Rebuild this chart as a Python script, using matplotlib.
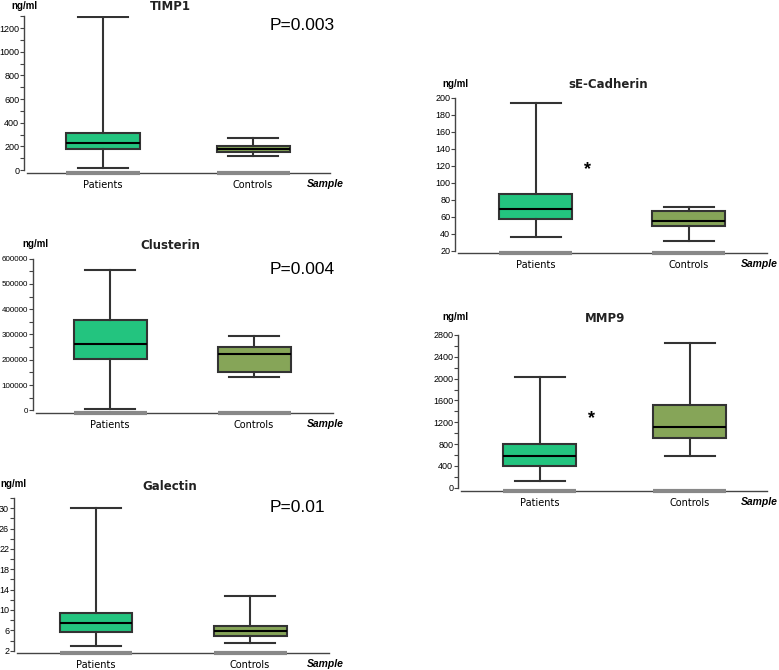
import matplotlib

matplotlib.use("Agg")
import matplotlib.pyplot as plt

# ---- data ----
groups = ["Patients", "Controls"]

timp1_whislo = [15, 115]
timp1_q1 = [177, 155]
timp1_med = [225, 177]
timp1_q3 = [315, 203]
timp1_whishi = [1290, 270]

clus_whislo = [4000, 133000]
clus_q1 = [202000, 153000]
clus_med = [263000, 223000]
clus_q3 = [356000, 249000]
clus_whishi = [557000, 294000]

gal_whislo = [2.9, 3.5]
gal_q1 = [5.7, 4.95]
gal_med = [7.4, 5.9]
gal_q3 = [9.5, 6.9]
gal_whishi = [30.1, 12.8]

cad_whislo = [36, 31.5]
cad_q1 = [57.5, 49]
cad_med = [69.5, 55.5]
cad_q3 = [87.5, 67]
cad_whishi = [194, 72]

mmp_whislo = [130, 580]
mmp_q1 = [390, 915]
mmp_med = [575, 1110]
mmp_q3 = [810, 1510]
mmp_whishi = [2030, 2645]

W, H = 779, 670
GREEN = "#23c47f"
OLIVE = "#86a558"
EDGE = "#333333"
SANS = ["Liberation Sans", "DejaVu Sans"]

fig = plt.figure(figsize=(W / 100, H / 100), dpi=100)


def fx(px):
    return px / W


def fy(py):
    return 1 - py / H


def panel(box, ylim, yticks, yminor, stats, title, title_xy, unit_xy, sample_x,
          ysize=6.5):
    lx, rx, ty, by, c1, c2 = box
    ax = fig.add_axes([fx(lx), fy(by), fx(rx - lx), (by - ty) / H])
    s = c2 - c1
    ax.set_xlim(1 - (c1 - lx) / s, 2 + (rx - c2) / s)
    ax.set_ylim(*ylim)
    lo, q1, med, q3, hi = stats
    bstats = []
    for i, g in enumerate(groups):
        bstats.append(dict(label=g, whislo=lo[i], q1=q1[i], med=med[i],
                           q3=q3[i], whishi=hi[i], fliers=[]))
    bw = 73 / s
    bp = ax.bxp(bstats, positions=[1, 2], widths=bw, patch_artist=True,
                showfliers=False, manage_ticks=False,
                boxprops=dict(edgecolor=EDGE, linewidth=1.5),
                medianprops=dict(color="black", linewidth=1.5),
                whiskerprops=dict(color=EDGE, linewidth=1.5),
                capprops=dict(color=EDGE, linewidth=1.5),
                capwidths=50 / s)
    for patch, c in zip(bp["boxes"], [GREEN, OLIVE]):
        patch.set_facecolor(c)
    # grey base under each box on the x axis
    for p in [1, 2]:
        ax.hlines(ylim[0], p - bw / 2, p + bw / 2, color="#888888", lw=3,
                  clip_on=False, zorder=5)
    for sp in ["top", "right"]:
        ax.spines[sp].set_visible(False)
    ax.spines["left"].set_bounds(yticks[0], ylim[1])
    ax.spines["bottom"].set_bounds(ax.get_xlim()[0] + 3 / s, ax.get_xlim()[1])
    for sp in ["left", "bottom"]:
        ax.spines[sp].set_color("#444444")
        ax.spines[sp].set_linewidth(1)
    ax.set_yticks(yticks)
    if yminor:
        ax.set_yticks(yminor, minor=True)
    ax.tick_params(axis="y", which="both", length=3, width=0.8,
                   color="#444444", labelsize=ysize, pad=0.5)
    for lab in ax.get_yticklabels():
        lab.set_family(SANS)
    ax.set_xticks([1, 2])
    ax.set_xticklabels(groups, fontsize=7, family="DejaVu Sans")
    ax.tick_params(axis="x", length=0, pad=5)
    ax.patch.set_visible(False)

    fig.text(fx(title_xy[0]), fy(title_xy[1]), title, ha="center", va="center",
             fontsize=8.5, fontweight="bold", family="DejaVu Sans", color="#222222")
    fig.text(fx(unit_xy[0]), fy(unit_xy[1]), "ng/ml", ha="left", va="center",
             fontsize=7, fontweight="bold", family=SANS)
    fig.text(fx(sample_x), fy(by + 11), "Sample", ha="left", va="center",
             fontsize=7.5, fontweight="bold", style="italic", family=SANS)
    return ax


panel((24, 330, 16.2, 173, 103, 253), (-25, 1300),
      list(range(0, 1201, 200)), list(range(100, 1301, 200)),
      (timp1_whislo, timp1_q1, timp1_med, timp1_q3, timp1_whishi),
      "TIMP1", (170, 7), (11, 6), 307)

panel((33, 333, 258.7, 413, 110, 254), (-10700, 600000),
      list(range(0, 600001, 100000)), list(range(50000, 600000, 100000)),
      (clus_whislo, clus_q1, clus_med, clus_q3, clus_whishi),
      "Clusterin", (170, 245), (22, 244), 307, ysize=5.8)

panel((14, 329, 498, 653.3, 96, 250), (1.49, 32),
      list(range(2, 31, 4)), list(range(4, 33, 4)),
      (gal_whislo, gal_q1, gal_med, gal_q3, gal_whishi),
      "Galectin", (170, 486), (0, 484), 307)

panel((455, 767, 97.7, 253, 535.5, 688.5), (17.65, 200),
      list(range(20, 201, 20)), None,
      (cad_whislo, cad_q1, cad_med, cad_q3, cad_whishi),
      "sE-Cadherin", (608, 84), (442, 84), 741)

panel((458, 767, 335, 490.7, 539.5, 689.5), (-55, 2800),
      list(range(0, 2801, 400)), list(range(200, 2800, 400)),
      (mmp_whislo, mmp_q1, mmp_med, mmp_q3, mmp_whishi),
      "MMP9", (605, 318), (442, 317), 741)

# p-values and significance stars
for txt, (x, y) in [("P=0.003", (270, 26)), ("P=0.004", (270, 269)),
                    ("P=0.01", (270, 508))]:
    fig.text(fx(x), fy(y), txt, ha="left", va="center", fontsize=12.5,
             family=SANS)
for x, y in [(587, 170), (592, 419)]:
    fig.text(fx(x), fy(y), "*", ha="center", va="center", fontsize=13,
             fontweight="bold", family=SANS)

fig.savefig("out.png", dpi=100)
